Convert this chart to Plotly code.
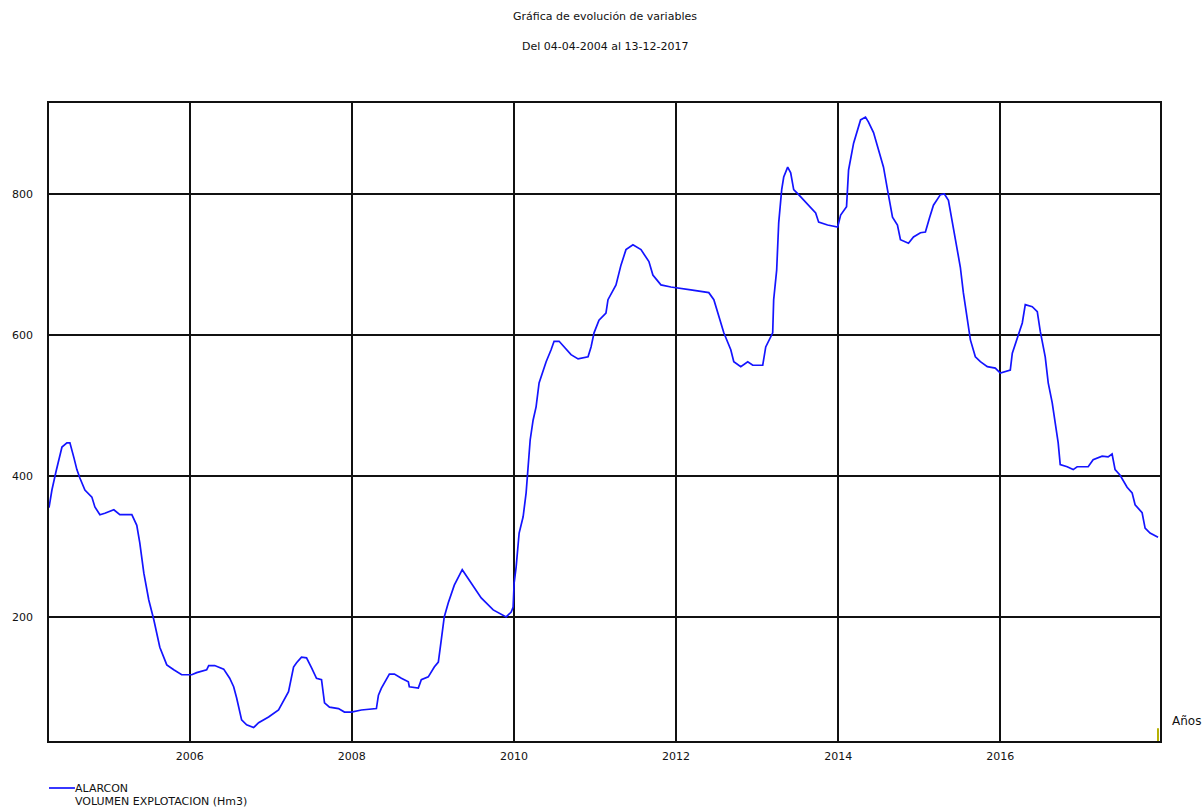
import plotly.graph_objects as go

# Decimal years and reservoir volume (Hm3)
years = [2004.264, 2004.300, 2004.350, 2004.387, 2004.424, 2004.485, 2004.522, 2004.571, 2004.608, 2004.645,
         2004.707, 2004.793, 2004.830, 2004.892, 2004.953, 2005.064, 2005.138, 2005.286, 2005.347, 2005.384,
         2005.434, 2005.495, 2005.557, 2005.631, 2005.717, 2005.803, 2005.901, 2006.025, 2006.086, 2006.209,
         2006.234, 2006.308, 2006.419, 2006.493, 2006.542, 2006.579, 2006.616, 2006.640, 2006.702, 2006.788,
         2006.850, 2006.973, 2007.096, 2007.158, 2007.219, 2007.281, 2007.318, 2007.379, 2007.441, 2007.502,
         2007.564, 2007.626, 2007.663, 2007.724, 2007.835, 2007.909, 2007.995, 2008.118, 2008.303, 2008.328,
         2008.365, 2008.463, 2008.525, 2008.611, 2008.697, 2008.709, 2008.820, 2008.857, 2008.943, 2009.017,
         2009.067, 2009.103, 2009.140, 2009.190, 2009.264, 2009.362, 2009.473, 2009.596, 2009.744, 2009.904,
         2009.966, 2009.990, 2010.002, 2010.027, 2010.064, 2010.113, 2010.150, 2010.175, 2010.200, 2010.236,
         2010.273, 2010.310, 2010.360, 2010.397, 2010.458, 2010.495, 2010.557, 2010.618, 2010.704, 2010.791,
         2010.914, 2010.951, 2010.988, 2011.049, 2011.135, 2011.160, 2011.259, 2011.320, 2011.382, 2011.468,
         2011.567, 2011.665, 2011.714, 2011.813, 2011.936, 2012.182, 2012.404, 2012.466, 2012.589, 2012.675,
         2012.712, 2012.798, 2012.884, 2012.946, 2013.069, 2013.106, 2013.192, 2013.204, 2013.241, 2013.266,
         2013.303, 2013.328, 2013.377, 2013.414, 2013.451, 2013.512, 2013.574, 2013.660, 2013.722, 2013.759,
         2013.869, 2013.993, 2014.030, 2014.103, 2014.128, 2014.190, 2014.239, 2014.276, 2014.337, 2014.374,
         2014.436, 2014.498, 2014.559, 2014.608, 2014.670, 2014.731, 2014.768, 2014.867, 2014.929, 2015.015,
         2015.076, 2015.126, 2015.175, 2015.261, 2015.310, 2015.360, 2015.409, 2015.470, 2015.507, 2015.544,
         2015.594, 2015.631, 2015.692, 2015.754, 2015.840, 2015.938, 2016.000, 2016.123, 2016.148, 2016.209,
         2016.271, 2016.308, 2016.394, 2016.456, 2016.493, 2016.554, 2016.591, 2016.640, 2016.677, 2016.714,
         2016.739, 2016.825, 2016.899, 2016.948, 2017.084, 2017.145, 2017.256, 2017.330, 2017.379, 2017.416,
         2017.478, 2017.564, 2017.626, 2017.663, 2017.749, 2017.786, 2017.847, 2017.946]

volume = [355, 380, 406, 423, 441, 447, 447, 426, 409, 397,
          380, 370, 356, 345, 347, 352, 345, 345, 330, 305,
          262, 224, 196, 157, 132, 125, 118, 118, 121, 125,
          131, 131, 126, 113, 101, 85, 68, 54, 47, 43,
          50, 58, 68, 82, 94, 129, 135, 143, 142, 128,
          113, 111, 78, 72, 70, 65, 65, 68, 70, 89,
          99, 119, 119, 113, 108, 101, 99, 111, 115, 129,
          136, 167, 200, 220, 245, 267, 248, 227, 210, 200,
          207, 214, 248, 271, 319, 342, 376, 418, 451, 479,
          498, 532, 550, 562, 579, 591, 591, 583, 572, 566,
          569, 583, 603, 621, 631, 650, 671, 699, 721, 728,
          721, 704, 685, 671, 668, 664, 660, 650, 603, 579,
          562, 555, 562, 557, 557, 583, 603, 650, 692, 759,
          806, 824, 838, 830, 806, 799, 791, 780, 773, 760,
          756, 753, 770, 782, 834, 872, 891, 905, 909, 902,
          887, 862, 838, 806, 767, 756, 735, 730, 739, 745,
          746, 766, 784, 799, 800, 791, 760, 725, 696, 660,
          621, 593, 569, 562, 555, 553, 546, 550, 574, 597,
          617, 643, 640, 633, 605, 569, 532, 504, 475, 447,
          416, 413, 409, 413, 413, 423, 428, 427, 431, 409,
          401, 384, 376, 359, 348, 326, 319, 313]

x_ticks = [2006, 2008, 2010, 2012, 2014, 2016]
x_tick_labels = ["2006", "2008", "2010", "2012", "2014", "2016"]
y_ticks = [200, 400, 600, 800]
x_range = [2004.264, 2017.970]
y_range = [24, 929]

FONT = "DejaVu Sans, Liberation Sans, Arial, sans-serif"
TXT = "#111"
BLUE = "#1414ff"

fig = go.Figure()
fig.add_trace(go.Scatter(x=years, y=volume, mode="lines",
                         line=dict(color=BLUE, width=1.7), showlegend=False,
                         name="ALARCON"))

fig.update_layout(
    width=1204, height=811,
    margin=dict(l=47, r=44, t=103, b=70),
    paper_bgcolor="white", plot_bgcolor="white",
    font=dict(family=FONT, size=11, color=TXT),
    showlegend=False,
)
fig.update_xaxes(range=x_range, tickvals=x_ticks, ticktext=x_tick_labels,
                 showgrid=True, gridcolor="#111", gridwidth=1.5,
                 showline=True, linecolor="#111", linewidth=1.5, mirror=True,
                 ticks="", ticklabelstandoff=4, zeroline=False,
                 tickfont=dict(family=FONT, size=11, color=TXT))
fig.update_yaxes(range=y_range, tickvals=y_ticks,
                 showgrid=True, gridcolor="#111", gridwidth=1.5,
                 showline=True, linecolor="#111", linewidth=1.5, mirror=True,
                 ticks="", ticklabelstandoff=12, zeroline=False,
                 tickfont=dict(family=FONT, size=11, color=TXT))

# Titles
fig.add_annotation(text="Gráfica de evolución de variables", xref="paper", yref="paper",
                   x=0.5, y=1, yshift=87, showarrow=False, xanchor="center", yanchor="middle",
                   font=dict(family=FONT, size=11, color=TXT))
fig.add_annotation(text="Del 04-04-2004 al 13-12-2017", xref="paper", yref="paper",
                   x=0.5, y=1, yshift=57, showarrow=False, xanchor="center", yanchor="middle",
                   font=dict(family=FONT, size=11, color=TXT))

# Axis unit label
fig.add_annotation(text="Años", xref="paper", yref="paper", x=1, y=0, xshift=10, yshift=20,
                   showarrow=False, xanchor="left", yanchor="middle",
                   font=dict(family=FONT, size=12, color=TXT))
# small olive marker at end of x axis
fig.add_shape(type="line", xref="x", yref="paper", x0=x_range[1] - 0.025, x1=x_range[1] - 0.025,
              y0=0, y1=0.02, line=dict(color="#b5b000", width=2), layer="above")

# Legend (manual)
fig.add_shape(type="line", xref="paper", yref="paper", x0=0, x1=26 / 1113, y0=-47 / 638, y1=-47 / 638,
              line=dict(color=BLUE, width=1.7))
fig.add_annotation(text="ALARCON", xref="paper", yref="paper", x=26 / 1113, y=-47 / 638,
                   showarrow=False, xanchor="left", yanchor="middle", xshift=-2,
                   font=dict(family=FONT, size=11, color=TXT))
fig.add_annotation(text="VOLUMEN EXPLOTACION (Hm3)", xref="paper", yref="paper", x=26 / 1113, y=-60 / 638,
                   showarrow=False, xanchor="left", yanchor="middle", xshift=-2,
                   font=dict(family=FONT, size=11, color=TXT))

fig.write_html("out.html", config={"displayModeBar": False},
               post_script="document.body.style.margin='0';document.body.style.overflow='hidden';")
